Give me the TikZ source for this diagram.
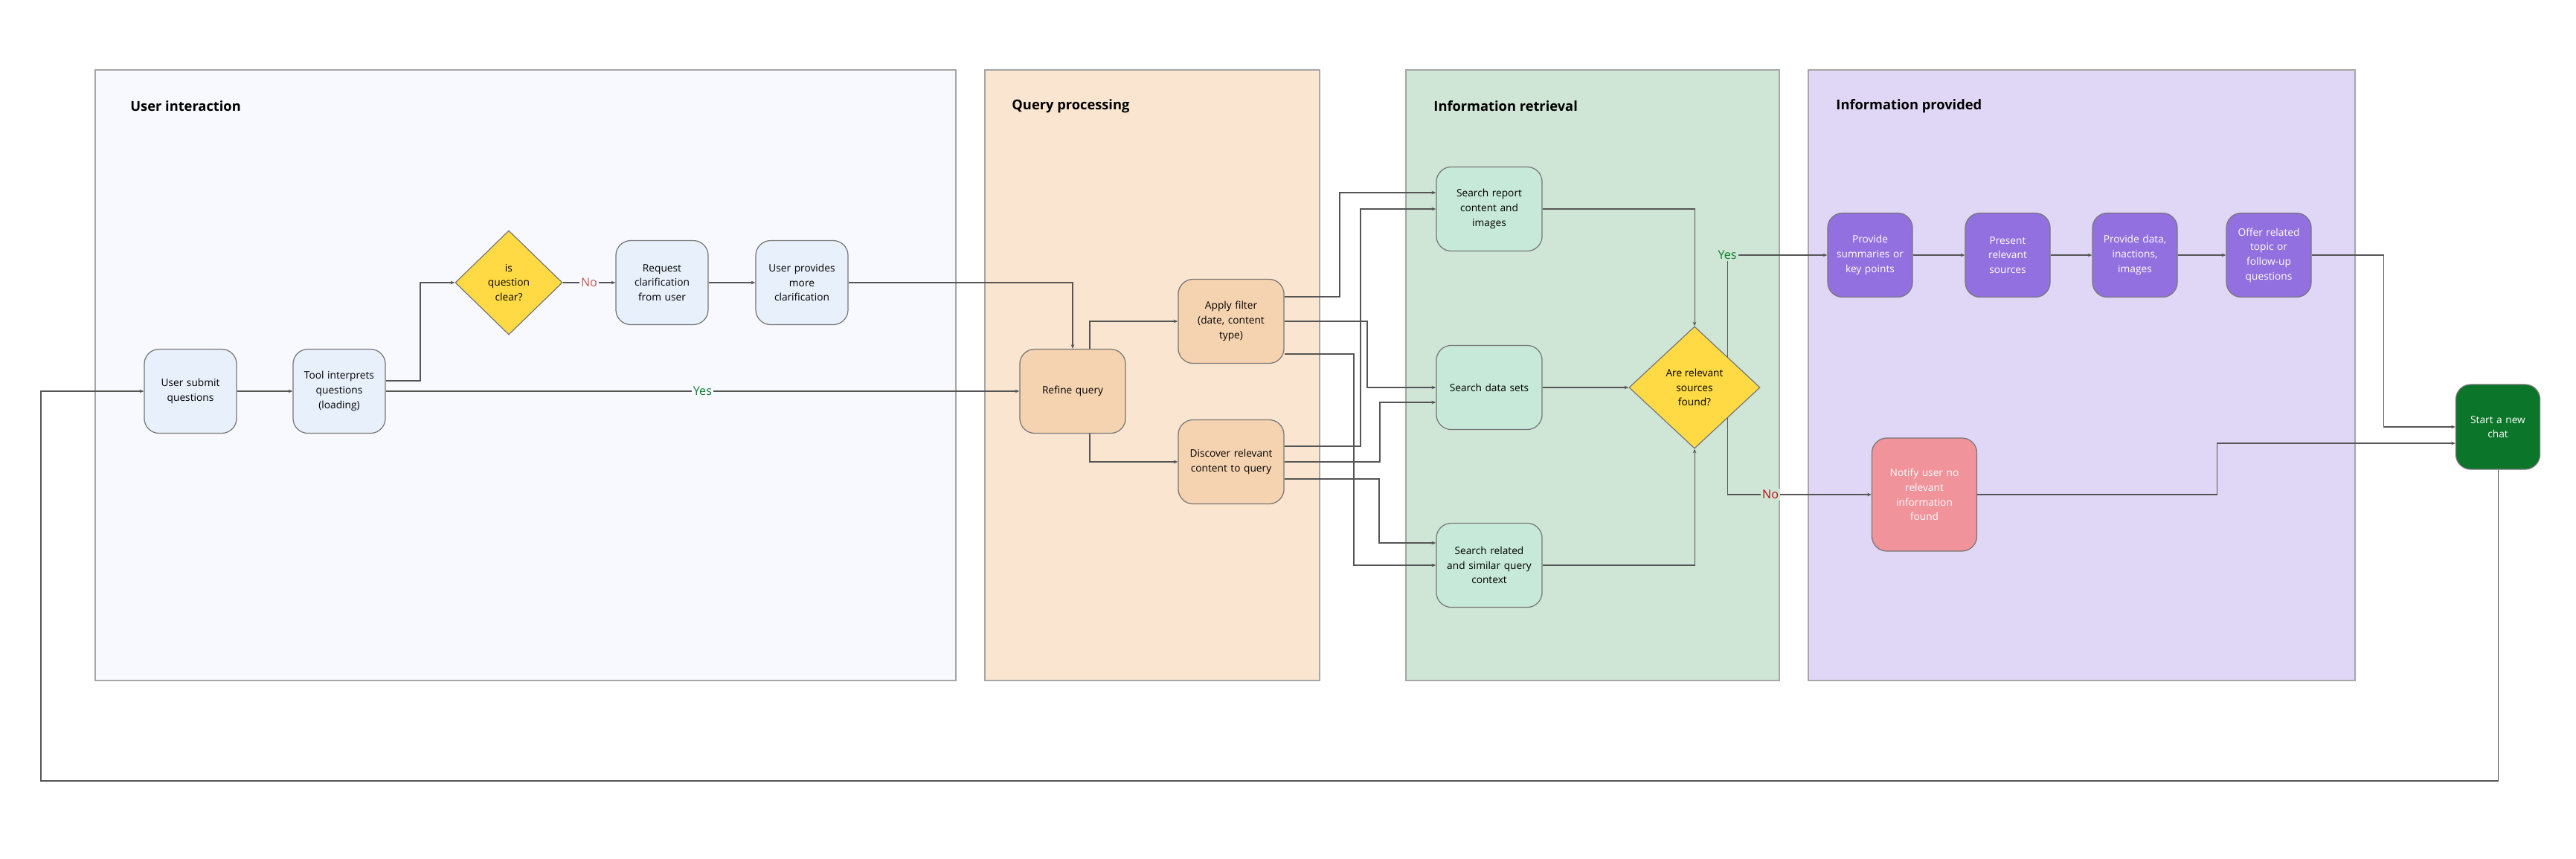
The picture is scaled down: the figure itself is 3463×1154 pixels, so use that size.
\documentclass[tikz,border=0pt]{standalone}
\usepackage{fontspec}
\setmainfont{Open Sans}
\usetikzlibrary{shapes.geometric,arrows.meta}
\definecolor{laneU}{HTML}{F8F9FE}
\definecolor{laneQ}{HTML}{FAE5D0}
\definecolor{laneR}{HTML}{CFE5D6}
\definecolor{laneP}{HTML}{E0D7F6}
\definecolor{nU}{HTML}{E8F0FB}
\definecolor{nQ}{HTML}{F6D3B0}
\definecolor{nR}{HTML}{C7E9D9}
\definecolor{nY}{HTML}{FFDA45}
\definecolor{nP}{HTML}{9370E0}
\definecolor{nN}{HTML}{F0939B}
\definecolor{nS}{HTML}{0B7529}
\definecolor{ln}{HTML}{555555}
\definecolor{yesG}{HTML}{107C2E}
\definecolor{noR}{HTML}{B01010}
\tikzset{
  lane/.style={draw=gray!70, line width=0.35pt},
  title/.style={anchor=west, font=\fontsize{5.2}{6}\selectfont\bfseries},
  box/.style={draw=ln!80, line width=0.35pt, rounded corners=0.2cm, align=center,
    font=\fontsize{3.9}{5.6}\selectfont, inner sep=1pt},
  ub/.style={box, fill=nU, minimum width=1.24cm, minimum height=1.13cm, text width=1.15cm},
  qb/.style={box, fill=nQ, minimum width=1.40cm, minimum height=1.13cm, text width=1.35cm},
  rb/.style={box, fill=nR, minimum width=1.40cm, minimum height=1.13cm, text width=1.35cm},
  pb/.style={box, fill=nP, text=white, minimum width=1.14cm, minimum height=1.13cm, text width=1.05cm},
  dia/.style={diamond, draw=ln!80, line width=0.35pt, fill=nY, align=center,
    font=\fontsize{3.9}{5.6}\selectfont, inner sep=0pt},
  con/.style={draw=ln, line width=0.3pt, -{Stealth[length=1.6pt,width=1.3pt]}},
  lab/.style={font=\fontsize{4.6}{5}\selectfont, inner sep=0.6pt}
}
\begin{document}
\begin{tikzpicture}[x=0.01cm,y=-0.01cm]
\useasboundingbox (0,0) rectangle (3463,1154);
% lanes
\draw[lane, fill=laneU] (128,94) rectangle (1285,915);
\draw[lane, fill=laneQ] (1324,94) rectangle (1774,915);
\draw[lane, fill=laneR] (1890,94) rectangle (2392,915);
\draw[lane, fill=laneP] (2431,94) rectangle (3166,915);
\node[title] (t1) at (163,143) {User interaction};
\node[title] (t2) at (1348,143) {Query processing};
\node[title] (t3) at (1915,143) {Information retrieval};
\node[title] (t4) at (2456,143) {Information provided};
% nodes
\node[ub] (sub) at (256,526) {User submit\\questions};
\node[ub] (tool) at (456,526) {Tool interprets\\questions\\(loading)};
\node[dia, minimum width=1.44cm, minimum height=1.40cm] (clr) at (684,380) {is\\question\\clear?};
\node[ub] (req) at (890,380) {Request\\clarification\\from user};
\node[ub] (more) at (1078,380) {User provides\\more\\clarification};
\node[qb] (ref) at (1442,526) {Refine query};
\node[qb] (fil) at (1655,432) {Apply filter\\(date, content\\type)};
\node[qb] (dis) at (1655,621) {Discover relevant\\content to query};
\node[rb] (srep) at (2002,281) {Search report\\content and\\images};
\node[rb] (sdat) at (2002,521) {Search data sets};
\node[rb] (srel) at (2002,760) {Search related\\and similar query\\context};
\node[dia, minimum width=1.76cm, minimum height=1.64cm] (src) at (2278,521) {Are relevant\\sources\\found?};
\node[pb] (sum) at (2514,343) {Provide\\summaries or\\key points};
\node[pb] (pre) at (2699,343) {Present\\relevant\\sources};
\node[pb] (dat) at (2870,343) {Provide data,\\inactions,\\images};
\node[pb] (off) at (3050,343) {Offer related\\topic or\\follow-up\\questions};
\node[box, fill=nN, text=white, minimum width=1.41cm, minimum height=1.52cm, text width=1.2cm] (not) at (2587,665) {Notify user no\\relevant\\information\\found};
\node[box, fill=nS, text=white, minimum width=1.13cm, minimum height=1.14cm, text width=1.05cm] (new) at (3358,574) {Start a new\\chat};
% coordinates
\coordinate (c1) at (3358,1050);
\coordinate (c2) at (55,1050);
% connectors
\draw[con] (new.south) -- (c1) -- (c2) |- (sub.west);
\draw[con] (sub) -- (tool);
\draw[con] (tool.east |- 0,512) -- (565,512) |- (clr.west);
\draw[con] (tool) -- node[lab, fill=laneU, text=yesG, pos=0.5]{Yes} (ref);
\draw[con] (clr) -- node[lab, fill=laneU, text=noR!70!white]{No} (req);
\draw[con] (req) -- (more);
\draw[con] (more.east) -| (ref.north);
\draw[con] (ref.north -| 1465,0) |- (fil.west);
\draw[con] (ref.south -| 1465,0) |- (dis.west);
\draw[con] (fil.east |- 0,399) -- (1801,399) |- (srep.west |- 0,259);
\draw[con] (fil.east) -- (1838,432) |- (sdat.west);
\draw[con] (fil.east |- 0,476) -- (1820,476) |- (srel.west);
\draw[con] (dis.east |- 0,600) -- (1829,600) |- (srep.west);
\draw[con] (dis.east) -- (1855,621) |- (sdat.west |- 0,541);
\draw[con] (dis.east |- 0,644) -- (1854,644) |- (srel.west |- 0,730);
\draw[con] (srep.east) -| (src.north);
\draw[con] (sdat) -- (src);
\draw[con] (srel.east) -| (src.south);
\draw[con] (2322,480) |- node[lab, pos=0.5, fill=laneR, text=yesG]{Yes} (sum.west);
\draw[con] (2322,562) |- node[lab, pos=0.65, fill=laneR, text=noR]{No} (not.west);
\draw[con] (sum) -- (pre);
\draw[con] (pre) -- (dat);
\draw[con] (dat) -- (off);
\draw[con] (off.east) -- (3204,343) |- (new.west);
\draw[con] (not.east) -- (2980,665) |- (new.west |- 0,596);
\end{tikzpicture}
\end{document}
